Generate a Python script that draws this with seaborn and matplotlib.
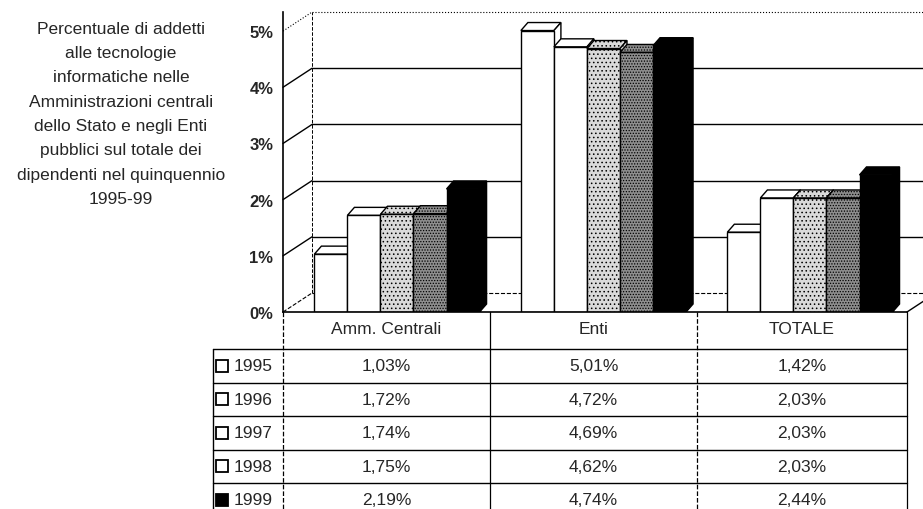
import numpy as np
import pandas as pd
import matplotlib
matplotlib.use("Agg")
import matplotlib.pyplot as plt
from matplotlib.patches import Polygon
import seaborn as sns

# data
categories = ["Amm. Centrali", "Enti", "TOTALE"]
years = ["1995", "1996", "1997", "1998", "1999"]
v1995 = [1.03, 5.01, 1.42]
v1996 = [1.72, 4.72, 2.03]
v1997 = [1.74, 4.69, 2.03]
v1998 = [1.75, 4.62, 2.03]
v1999 = [2.19, 4.74, 2.44]
yticks = [0, 1, 2, 3, 4, 5]

title_lines = [
    "Percentuale di addetti",
    "alle tecnologie",
    "informatiche nelle",
    "Amministrazioni centrali",
    "dello Stato e negli Enti",
    "pubblici sul totale dei",
    "dipendenti nel quinquennio",
    "1995-99",
]

series = [v1995, v1996, v1997, v1998, v1999]
rows = []
for yr, vals in zip(years, series):
    for cat, v in zip(categories, vals):
        rows.append({"Categoria": cat, "Anno": yr, "Valore": v})
df = pd.DataFrame(rows)

sns.set_style("white")
plt.rcParams["font.family"] = ["Liberation Sans", "DejaVu Sans"]
plt.rcParams["hatch.color"] = "#444444"
plt.rcParams["hatch.linewidth"] = 0.6

W, H = 923, 510
fig = plt.figure(figsize=(W / 100, H / 100), dpi=100)

# chart area (pixel layout of the reference)
ax = fig.add_axes([283 / W, 1 - 313 / H, 624 / W, 300 / H])

face = ["white", "white", "#dadada", "#8e8e8e", "black"]
hatches = [None, None, "....", "......", None]

sns.barplot(
    data=df,
    x="Categoria",
    y="Valore",
    hue="Anno",
    hue_order=years,
    order=categories,
    palette=face,
    width=0.8,
    edgecolor="black",
    linewidth=1.0,
    legend=False,
    saturation=1,
    ax=ax,
)

ax.set_xlim(-0.552, 2.47)
ax.set_ylim(0, 5.34)
x0, x1 = ax.get_xlim()

# pixel -> data conversion for the fake depth
ppx = ax.transData.transform((1, 0))[0] - ax.transData.transform((0, 0))[0]
ppy = ax.transData.transform((0, 1))[1] - ax.transData.transform((0, 0))[1]
WX, WY = 29 / ppx, 19 / ppy   # back wall depth
BX, BY = 7 / ppx, 8 / ppy     # bar depth

# back wall: grid lines and the diagonals from the ticks
for t in yticks:
    ls = ":" if t == yticks[-1] else ("--" if t == 0 else "-")
    lw = 0.8 if ls != "-" else 1.0
    ax.plot([x0 + WX, x1 + WX], [t + WY, t + WY], color="black", lw=lw,
            ls=ls, zorder=1, clip_on=False)
    ax.plot([x0, x0 + WX], [t, t + WY], color="black", lw=lw, ls=ls,
            zorder=1, clip_on=False)
ax.plot([x0 + WX, x0 + WX], [WY, yticks[-1] + WY], color="black", lw=0.7,
        ls="--", zorder=1)
# right corner of the floor
ax.plot([x1, x1 + WX], [0, WY], color="black", lw=1.0, zorder=1, clip_on=False)

# bars with top and side faces
for k, (cont, fc, ht) in enumerate(zip(ax.containers, face, hatches)):
    for p in cont:
        p.set_facecolor(fc)
        p.set_zorder(3 + k * 0.01)
        if ht:
            p.set_hatch(ht)
        x, w, h = p.get_x(), p.get_width(), p.get_height()
        top = Polygon([(x, h), (x + w, h), (x + w + BX, h + BY), (x + BX, h + BY)])
        side = Polygon([(x + w, 0), (x + w, h), (x + w + BX, h + BY), (x + w + BX, BY)])
        for poly in (top, side):
            poly.set_facecolor(fc)
            poly.set_edgecolor("black")
            poly.set_linewidth(1.0)
            poly.set_zorder(3 + k * 0.01 - 0.005)
            if ht:
                poly.set_hatch(ht)
            ax.add_patch(poly)

ax.set_yticks(yticks)
ax.set_yticklabels([f"{t}%" for t in yticks], fontsize=12, fontweight="bold")
ax.set_xticks([])
ax.set_xlabel("")
ax.set_ylabel("")
ax.tick_params(axis="y", length=4, width=1, direction="out", pad=3)
for s in ["left", "bottom"]:
    ax.spines[s].set_color("black")
    ax.spines[s].set_linewidth(1.2)
    ax.spines[s].set_zorder(5)
ax.spines["top"].set_visible(False)
ax.spines["right"].set_visible(False)

# side title
for i, line in enumerate(title_lines):
    fig.text(121 / W, 1 - (29 + i * 24.4) / H, line, ha="center", va="center",
             fontsize=12.5)

# data table under the chart
tax = fig.add_axes([0, 0, 1, 1])
tax.set_xlim(0, W)
tax.set_ylim(H, 0)
tax.axis("off")

col_edges = [213, 283, 490, 697, 907]
header_y = 330
row_top = 350
row_h = 33.5
fs = 12.5

for j, cat in enumerate(categories):
    cx = (col_edges[j + 1] + col_edges[j + 2]) / 2
    tax.text(cx, header_y, cat, ha="center", va="center", fontsize=fs)

for i, (yr, vals) in enumerate(zip(years, series)):
    cy = row_top + i * row_h + row_h / 2
    tax.plot(222, cy, marker="s", ms=8.5, mfc=face[i] if i == 4 else "white",
             mec="black", mew=1.3)
    tax.text(234, cy, yr, ha="left", va="center", fontsize=fs)
    for j, v in enumerate(vals):
        cx = (col_edges[j + 1] + col_edges[j + 2]) / 2
        label = f"{v:.2f}%".replace(".", ",")
        tax.text(cx, cy, label, ha="center", va="center", fontsize=fs)

# table rules
for i in range(len(years)):
    y = row_top + i * row_h
    tax.plot([col_edges[0], col_edges[-1]], [y, y], color="black", lw=1.0)
tax.plot([col_edges[0], col_edges[0]], [row_top, H], color="black", lw=1.0)
for x in col_edges[1:]:
    ls = "--" if x in (283, 697) else "-"
    tax.plot([x, x], [313, H], color="black", lw=0.9, ls=ls)

fig.savefig("out.png", dpi=100)
